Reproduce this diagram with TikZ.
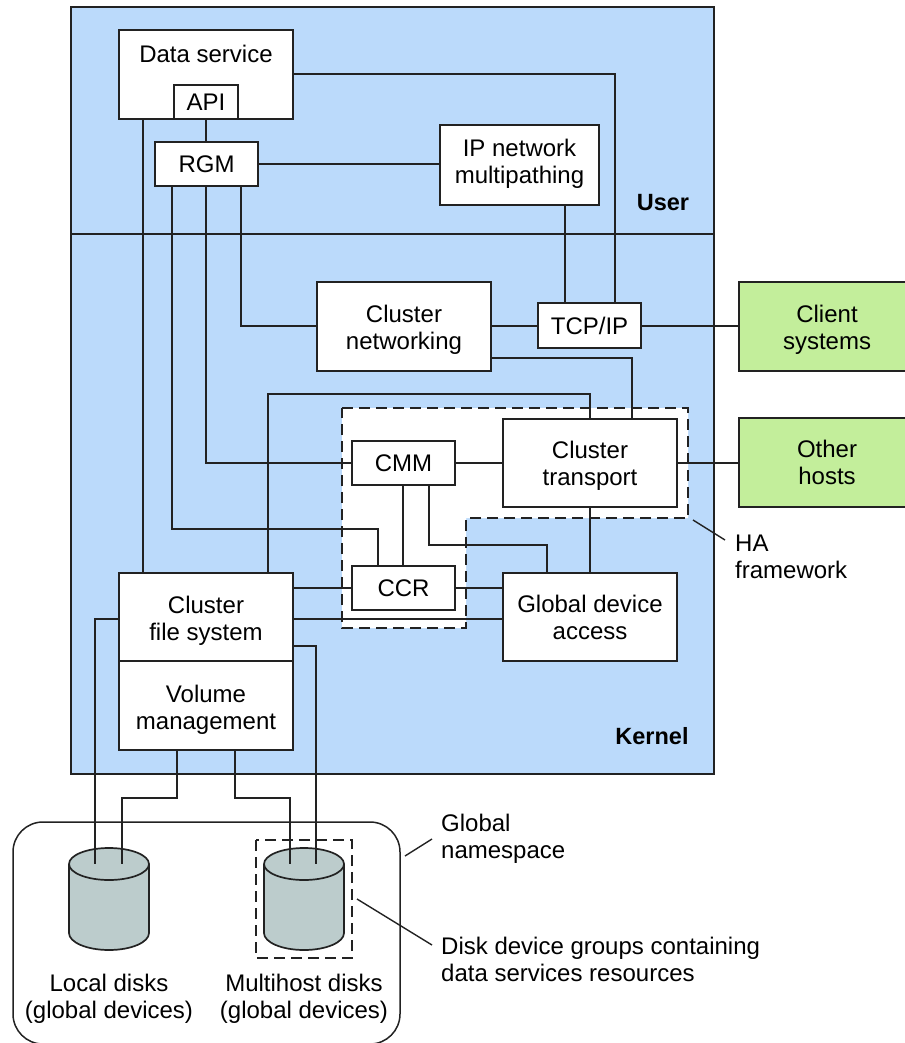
\documentclass[tikz,border=0pt]{standalone}
\usepackage{fontspec}
\setmainfont{Liberation Sans}
\definecolor{bluebg}{HTML}{BBDAFB}
\definecolor{greenbg}{HTML}{C3EE9B}
\definecolor{diskc}{HTML}{BCCCCC}
\definecolor{ink}{HTML}{222222}
\tikzset{
  txt/.style={font=\fontsize{24}{27}\selectfont},
  ln/.style={draw=ink,line width=1.7pt},
  conn/.style={ln,line join=miter},
  thin leader/.style={draw=ink,line width=1.4pt},
  box/.style={ln,fill=white,rectangle,inner sep=0pt,outer sep=0pt,align=center,txt},
  gbox/.style={box,fill=greenbg},
  dash border/.style={draw=ink,line width=1.5pt,dash pattern=on 11pt off 6pt},
  label/.style={txt,align=left,anchor=west,inner sep=0pt},
  capt/.style={txt,align=center,inner sep=0pt},
  bold label/.style={font=\fontsize{23.5}{27}\selectfont\bfseries,inner sep=0pt},
}
\newcommand{\mkbox}[7][box]{\node[#1,minimum width={(#5-#3)*1pt},minimum height={(#6-#4)*1pt}] (#2) at ({(#3+#5)/2},{(#4+#6)/2}) {#7};}
\newcommand{\mkdisk}[2]{%
  \path[ln,fill=diskc] (#2-40,864) -- (#2-40,933) arc[start angle=180,end angle=0,x radius=40,y radius=17] -- (#2+40,864) arc[start angle=0,end angle=-180,x radius=40,y radius=16] -- cycle;
  \path[ln] (#2-40,864) arc[start angle=180,end angle=0,x radius=40,y radius=16];
  \node[inner sep=0pt,minimum width=80pt,minimum height=32pt] (#1) at (#2,864) {};
}
% first-line strut whose extra height pushes a two-line label down by half the excess
\newcommand{\toprule}[1]{\rule{0pt}{#1pt}}
\begin{document}
\begin{tikzpicture}[x=1pt,y=-1pt]
\useasboundingbox (0,0) rectangle (904,1043);
% panels
\mkbox[box,fill=bluebg]{panel}{71}{7}{714}{774}{}
\coordinate (divL) at (panel.west |- 0,234);
\coordinate (divR) at (panel.east |- 0,234);
\draw[conn] (divL) -- (divR);
\path[dash border,fill=white] (342,408) -- (688,408) -- (688,518) -- (466,518) -- (466,628) -- (342,628) -- cycle;
% nodes
\mkbox{ds}{119}{30}{293}{119}{}
\node[txt,inner sep=0pt] (dslabel) at (206,54) {Data service};
\mkbox{api}{174}{85}{238}{119}{API}
\mkbox{rgm}{155}{142}{258}{186}{RGM}
\mkbox{ip}{440}{125}{599}{205}{\strut IP network\\\strut multipathing}
\mkbox{net}{317}{282}{491}{371}{\toprule{27}Cluster\\\strut networking}
\mkbox{tcp}{538}{303}{641}{348}{TCP/IP}
\mkbox[gbox]{client}{739}{282}{915}{371}{\toprule{27}Client\\\strut systems}
\mkbox[gbox]{other}{739}{418}{915}{507}{\toprule{25}Other\\\strut hosts}
\mkbox{trans}{503}{419}{677}{507}{\toprule{27}Cluster\\\strut transport}
\mkbox{cmm}{352}{441}{455}{485}{CMM}
\mkbox{ccr}{352}{566}{455}{610}{CCR}
\mkbox{gda}{503}{573}{677}{661}{\toprule{27}Global device\\\strut access}
\mkbox{cfs}{119}{573}{293}{661}{\toprule{29}Cluster\\\strut file system}
\mkbox{vol}{119}{661}{293}{750}{\toprule{29}Volume\\\strut management}
% namespace
\path[draw=ink,line width=1.5pt,rounded corners=30pt] (13,822) rectangle (400,1044);
\mkdisk{ld}{109}
\mkdisk{md}{304}
\path[dash border] (256,840) rectangle (352,958);
% connectors
\draw[conn] (ds.east |- 0,74) -| (615,0 |- tcp.north);
\draw[conn] (206,0 |- api.south) -- (206,0 |- rgm.north);
\draw[conn] (143,0 |- ds.south) -- (143,0 |- cfs.north);
\draw[conn] (rgm.east |- 0,164) -- (ip.west |- 0,164);
\draw[conn] (565,0 |- ip.south) -- (565,0 |- tcp.north);
\draw[conn] (241,0 |- rgm.south) |- (net.west |- 0,326);
\draw[conn] (net.east |- 0,326) -- (tcp.west |- 0,326);
\draw[conn] (tcp.east |- 0,326) -- (client.west |- 0,326);
\draw[conn] (net.east |- 0,358) -| (632,0 |- trans.north);
\draw[conn] (206,0 |- rgm.south) |- (cmm.west |- 0,463);
\draw[conn] (172,0 |- rgm.south) |- (378,529) -- (378,0 |- ccr.north);
\draw[conn] (268,0 |- cfs.north) |- (590,394) -- (590,0 |- trans.north);
\draw[conn] (cmm.east |- 0,463) -- (trans.west |- 0,463);
\draw[conn] (trans.east |- 0,463) -- (other.west |- 0,463);
\draw[conn] (403,0 |- cmm.south) -- (403,0 |- ccr.north);
\draw[conn] (429,0 |- cmm.south) |- (547,545) -- (547,0 |- gda.north);
\draw[conn] (590,0 |- trans.south) -- (590,0 |- gda.north);
\draw[conn] (cfs.east |- 0,588) -- (ccr.west |- 0,588);
\draw[conn] (ccr.east |- 0,588) -- (gda.west |- 0,588);
\draw[conn] (cfs.east |- 0,619) -- (gda.west |- 0,619);
\draw[conn] (cfs.west |- 0,619) -| (95,0 |- ld.center);
\draw[conn] (cfs.east |- 0,646) -| (316,0 |- md.center);
\draw[conn] (177,0 |- vol.south) |- (122,798) -- (122,0 |- ld.center);
\draw[conn] (235,0 |- vol.south) |- (290,798) -- (290,0 |- md.center);
% labels
\node[bold label] (user) at (663,203) {User};
\node[bold label] (kernel) at (652,736) {Kernel};
\node[capt] (ldl) at (109,999) {Local disks\\(global devices)};
\node[capt] (mdl) at (304,999) {Multihost disks\\(global devices)};
\node[label] (hal) at (735,557) {HA\\framework};
\node[label] (gnl) at (441,839) {Global\\namespace};
\node[label] (ddl) at (441,959) {Disk device groups containing\\data services resources};
\coordinate (ha1) at (693,520); \coordinate (ha2) at (725,540);
\coordinate (gn1) at (405,856); \coordinate (gn2) at (432,839);
\coordinate (dd1) at (357,899); \coordinate (dd2) at (432,945);
\draw[thin leader] (ha1) -- (ha2);
\draw[thin leader] (gn1) -- (gn2);
\draw[thin leader] (dd1) -- (dd2);
\end{tikzpicture}
\end{document}
